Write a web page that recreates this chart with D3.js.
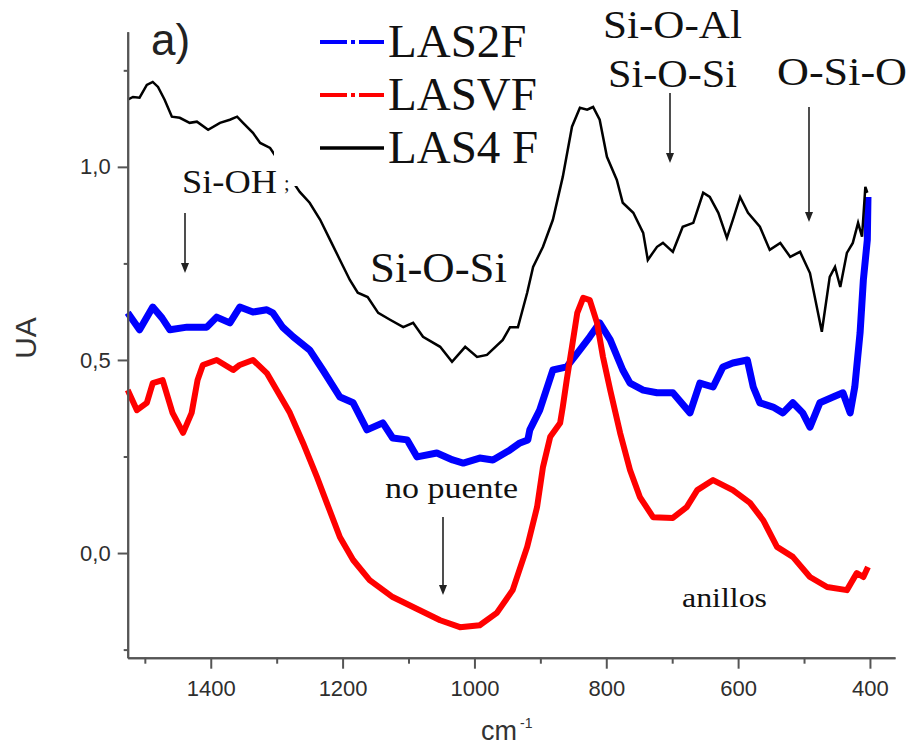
<!DOCTYPE html>
<html>
<head>
<meta charset="utf-8">
<script src="https://cdn.jsdelivr.net/npm/d3@7/dist/d3.min.js"></script>
<style>
  body { margin: 0; background: #fff; }
  svg { display: block; }
  .tick text { font-family: "Liberation Sans", Arial, sans-serif; font-size: 22px; fill: #2e2e2e; }
  .ann { font-family: "Liberation Serif", "Times New Roman", serif; fill: #111; }
</style>
</head>
<body>
<svg id="chart"></svg>
<script>
// LAS2F (blue, dash-dot)
var las2fWn = [1526, 1508, 1488, 1474, 1462, 1436, 1406, 1391, 1371, 1356, 1336, 1315, 1306, 1291, 1275, 1250, 1230, 1204, 1184, 1163, 1139, 1124, 1102, 1087, 1057, 1033, 1017, 992, 972, 946, 931, 919, 916, 901, 881, 860, 840, 825, 810, 794, 775, 764, 744, 723, 699, 673, 658, 638, 623, 608, 586, 577, 567, 547, 532, 517, 502, 491, 476, 456, 441, 430, 423, 415, 410, 404, 403];
var las2fUA = [0.622, 0.578, 0.637, 0.609, 0.578, 0.585, 0.585, 0.611, 0.596, 0.637, 0.624, 0.630, 0.622, 0.585, 0.560, 0.526, 0.474, 0.404, 0.389, 0.319, 0.337, 0.298, 0.293, 0.249, 0.259, 0.241, 0.233, 0.246, 0.241, 0.267, 0.285, 0.293, 0.319, 0.370, 0.474, 0.482, 0.526, 0.560, 0.596, 0.552, 0.474, 0.440, 0.422, 0.415, 0.415, 0.363, 0.440, 0.430, 0.482, 0.492, 0.500, 0.430, 0.389, 0.378, 0.363, 0.389, 0.363, 0.326, 0.389, 0.404, 0.415, 0.363, 0.430, 0.570, 0.707, 0.811, 0.922];

// LASVF (red, dash-dot)
var lasvfWn = [1526, 1512, 1497, 1488, 1473, 1458, 1442, 1429, 1420, 1412, 1391, 1366, 1356, 1336, 1315, 1300, 1280, 1260, 1239, 1224, 1204, 1184, 1159, 1124, 1083, 1052, 1022, 992, 966, 942, 920, 905, 896, 885, 870, 866, 860, 852, 844, 835, 825, 814, 805, 794, 779, 764, 749, 729, 699, 678, 662, 638, 608, 582, 562, 541, 517, 491, 465, 435, 420, 410, 403];
var lasvfUA = [0.422, 0.370, 0.389, 0.440, 0.448, 0.363, 0.311, 0.363, 0.448, 0.487, 0.500, 0.474, 0.487, 0.500, 0.466, 0.422, 0.363, 0.285, 0.197, 0.130, 0.041, -0.018, -0.070, -0.114, -0.148, -0.174, -0.192, -0.187, -0.155, -0.096, 0.016, 0.119, 0.223, 0.301, 0.337, 0.378, 0.448, 0.534, 0.622, 0.661, 0.655, 0.596, 0.508, 0.422, 0.311, 0.215, 0.145, 0.093, 0.091, 0.119, 0.163, 0.189, 0.163, 0.130, 0.085, 0.016, -0.010, -0.062, -0.088, -0.096, -0.052, -0.062, -0.036];

// LAS4 F (black, solid)
var las4fWn = [1526, 1518, 1508, 1497, 1488, 1480, 1470, 1459, 1447, 1432, 1421, 1404, 1386, 1371, 1360, 1351, 1336, 1325, 1310, 1265, 1250, 1234, 1219, 1204, 1189, 1177, 1162, 1146, 1128, 1108, 1093, 1078, 1052, 1034, 1014, 996, 981, 957, 946, 934, 931, 920, 911, 896, 881, 866, 852, 840, 829, 820, 810, 799, 784, 775, 759, 744, 737, 723, 714, 699, 684, 668, 653, 643, 630, 617, 608, 597, 585, 567, 552, 536, 521, 506, 491, 473, 461, 453, 445, 435, 426, 418, 412, 407, 404];
var las4fUA = [1.174, 1.181, 1.179, 1.212, 1.220, 1.207, 1.174, 1.130, 1.127, 1.114, 1.117, 1.096, 1.114, 1.122, 1.130, 1.114, 1.088, 1.062, 1.049, 0.935, 0.907, 0.863, 0.811, 0.759, 0.707, 0.674, 0.663, 0.622, 0.604, 0.585, 0.596, 0.560, 0.534, 0.495, 0.534, 0.508, 0.513, 0.552, 0.585, 0.585, 0.604, 0.674, 0.741, 0.793, 0.863, 0.974, 1.104, 1.153, 1.148, 1.155, 1.122, 1.026, 0.966, 0.907, 0.881, 0.829, 0.759, 0.793, 0.803, 0.780, 0.845, 0.855, 0.933, 0.922, 0.881, 0.816, 0.863, 0.922, 0.881, 0.845, 0.785, 0.803, 0.767, 0.780, 0.725, 0.573, 0.715, 0.741, 0.689, 0.777, 0.803, 0.855, 0.819, 0.948, 0.933];

var xMajor = [1400, 1200, 1000, 800, 600, 400];
var xMinor = [1500, 1300, 1100, 900, 700, 500];
var yMajor = [0, 0.5, 1.0];
var yMinor = [-0.25, 0.25, 0.75, 1.25];

var legendNames = ["LAS2F", "LASVF", "LAS4 F"];
var legendColors = ["#0000ff", "#ff0000", "#000000"];

var svg = d3.select("svg#chart")
			.attr("width", 913)
			.attr("height", 748);

var x = d3.scaleLinear().domain([1526, 362]).range([127.7, 895]);
var y = d3.scaleLinear().domain([-0.271, 1.35]).range([657.7, 31.7]);

const zipSeries = (wn, ua) => wn.map((w, i) => [w, ua[i]]);

var line = d3.line()
			.x(d => x(d[0]))
			.y(d => y(d[1]));

// series
svg.append("path")
	.datum(zipSeries(las2fWn, las2fUA))
	.attr("d", line)
	.attr("fill", "none")
	.attr("stroke", legendColors[0])
	.attr("stroke-width", 7)
	.attr("stroke-linejoin", "round");

svg.append("path")
	.datum(zipSeries(lasvfWn, lasvfUA))
	.attr("d", line)
	.attr("fill", "none")
	.attr("stroke", legendColors[1])
	.attr("stroke-width", 6)
	.attr("stroke-linejoin", "round");

svg.append("path")
	.datum(zipSeries(las4fWn, las4fUA))
	.attr("d", line)
	.attr("fill", "none")
	.attr("stroke", legendColors[2])
	.attr("stroke-width", 2.5);

// axes
const styleAxis = (g) => {
	g.selectAll("path.domain").attr("stroke", "#555").attr("stroke-width", 2);
	g.selectAll(".tick line").attr("stroke", "#555").attr("stroke-width", 2);
}

svg.append("g")
	.attr("transform", "translate(0," + y.range()[0] + ")")
	.call(d3.axisBottom(x).tickValues(xMinor).tickSize(6).tickSizeOuter(0).tickFormat(""))
	.call(styleAxis);

svg.append("g")
	.attr("transform", "translate(0," + y.range()[0] + ")")
	.call(d3.axisBottom(x).tickValues(xMajor).tickSize(11).tickSizeOuter(0).tickPadding(12).tickFormat(d3.format("d")))
	.call(styleAxis);

svg.append("g")
	.attr("transform", "translate(" + x.range()[0] + ",0)")
	.call(d3.axisLeft(y).tickValues(yMinor).tickSize(4).tickSizeOuter(0).tickFormat(""))
	.call(styleAxis);

svg.append("g")
	.attr("transform", "translate(" + x.range()[0] + ",0)")
	.call(d3.axisLeft(y).tickValues(yMajor).tickSize(10).tickSizeOuter(0).tickPadding(7)
		.tickFormat(d => d.toFixed(1).replace(".", ",")))
	.call(styleAxis);

svg.selectAll(".tick text").attr("fill", "#2e2e2e");

// axis titles
svg.append("text")
	.attr("transform", "translate(36,338) rotate(-90)")
	.attr("text-anchor", "middle")
	.style("font-family", "Liberation Sans, Arial, sans-serif")
	.style("font-size", "30px")
	.attr("fill", "#333")
	.text("UA");

var xTitle = svg.append("text")
	.attr("x", 481)
	.attr("y", 740)
	.style("font-family", "Liberation Sans, Arial, sans-serif")
	.style("font-size", "27px")
	.attr("fill", "#333");
xTitle.append("tspan").text("cm");
xTitle.append("tspan").attr("dx", 3).attr("dy", -12).style("font-size", "14px").text("-1");

// legend (white box hides the line underneath)
svg.append("rect")
	.attr("x", 274).attr("y", 12)
	.attr("width", 270).attr("height", 174)
	.attr("fill", "#fff");

for (let i = 0; i < legendNames.length; i++) {
	var ly = 42 + 53 * i;
	var sample = svg.append("line")
		.attr("x1", 320).attr("x2", 384)
		.attr("y1", ly).attr("y2", ly)
		.attr("stroke", legendColors[i])
		.attr("stroke-width", i < 2 ? 4 : 3.5);
	if (i < 2) sample.attr("stroke-dasharray", "27,4,4,4,27");
	svg.append("text")
		.attr("class", "ann")
		.attr("x", 388)
		.attr("y", 57 + 53 * i)
		.style("font-size", "47px")
		.text(legendNames[i]);
}

svg.append("text")
	.attr("x", 151)
	.attr("y", 55)
	.style("font-family", "Liberation Sans, Arial, sans-serif")
	.style("font-size", "44px")
	.attr("fill", "#222")
	.text("a)");

// band labels
var labels = [
	{t: "Si-O-Al", x: 603, y: 38, s: 41, w: 139},
	{t: "Si-O-Si", x: 608, y: 87, s: 41, w: 129},
	{t: "O-Si-O", x: 777, y: 85, s: 41, w: 130},
	{t: "Si-OH", x: 182, y: 193, s: 34, w: 95},
	{t: "Si-O-Si", x: 370, y: 282, s: 42, w: 137},
	{t: "no puente", x: 385, y: 498, s: 29, w: 133},
	{t: "anillos", x: 682, y: 607, s: 28, w: 85}
];
labels.forEach(l => {
	svg.append("text")
		.attr("class", "ann")
		.attr("x", l.x).attr("y", l.y)
		.attr("textLength", l.w)
		.attr("lengthAdjust", "spacingAndGlyphs")
		.style("font-size", l.s + "px")
		.text(l.t);
});
svg.append("text").attr("class", "ann").attr("x", 284).attr("y", 190).style("font-size", "20px").text(";");

// arrows
var arrows = [[185, 213, 273], [670, 93, 163], [809, 107, 222], [443, 517, 595]];
arrows.forEach(a => {
	svg.append("line")
		.attr("x1", a[0]).attr("x2", a[0])
		.attr("y1", a[1]).attr("y2", a[2] - 6)
		.attr("stroke", "#222").attr("stroke-width", 1.6);
	svg.append("path")
		.attr("d", "M" + (a[0] - 4) + "," + (a[2] - 10) + "L" + (a[0] + 4) + "," + (a[2] - 10) + "L" + a[0] + "," + a[2] + "Z")
		.attr("fill", "#222");
});
</script>
</body>
</html>
